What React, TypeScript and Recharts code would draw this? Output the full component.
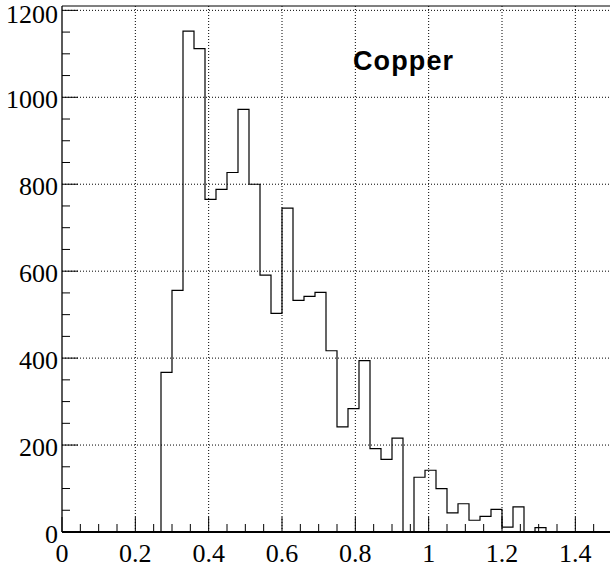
import React from "react";
import { ComposedChart, Line, XAxis, YAxis, ReferenceLine } from "recharts";

// histogram of 50 bins, 0 .. 1.5, width 0.03
const BIN_WIDTH = 0.03;
const counts = [
  0, 0, 0, 0, 0, 0, 0, 0, 0, 367,
  556, 1152, 1112, 765, 788, 827, 972, 800, 591, 503,
  745, 533, 542, 551, 417, 242, 284, 394, 192, 167,
  216, 0, 126, 142, 100, 44, 65, 27, 36, 52,
  11, 58, 0, 10, 0, 0, 0, 0, 0, 0,
];

const xMajor = [0, 0.2, 0.4, 0.6, 0.8, 1, 1.2, 1.4];
const xTicks = [
  0, 0.05, 0.1, 0.15, 0.2, 0.25, 0.3, 0.35, 0.4, 0.45, 0.5, 0.55, 0.6, 0.65, 0.7, 0.75,
  0.8, 0.85, 0.9, 0.95, 1, 1.05, 1.1, 1.15, 1.2, 1.25, 1.3, 1.35, 1.4, 1.45,
];
const yMajor = [0, 200, 400, 600, 800, 1000, 1200];
const yTicks = [
  0, 50, 100, 150, 200, 250, 300, 350, 400, 450, 500, 550, 600, 650, 700, 750,
  800, 850, 900, 950, 1000, 1050, 1100, 1150, 1200,
];

const X_MAX = 1.5;
const Y_MAX = 1210;
const SERIF = "'Liberation Serif', 'Times New Roman', serif";

const data = [
  ...counts.map((c, i) => ({ x: +(i * BIN_WIDTH).toFixed(2), y: c })),
  { x: X_MAX, y: counts[counts.length - 1] },
];

// eslint-disable-next-line @typescript-eslint/no-explicit-any
const XTick = (props: any) => {
  const { x, y, payload } = props;
  const major = xMajor.includes(payload.value);
  return (
    <g>
      <line x1={x} x2={x} y1={y} y2={y - (major ? 15 : 8)} stroke="#000" strokeWidth={1} />
      {major && (
        <text x={x} y={y + 30} textAnchor="middle" fontFamily={SERIF} fontSize={26} fill="#000">
          {String(payload.value)}
        </text>
      )}
    </g>
  );
};

// eslint-disable-next-line @typescript-eslint/no-explicit-any
const YTick = (props: any) => {
  const { x, y, payload } = props;
  const major = yMajor.includes(payload.value);
  // keep the top label's box inside the picture
  const ty = Math.max(y + 11, 23);
  return (
    <g>
      <line x1={x} x2={x + (major ? 16 : 8)} y1={y} y2={y} stroke="#000" strokeWidth={1} />
      {major && (
        <text x={x - 4} y={ty} textAnchor="end" fontFamily={SERIF} fontSize={26} fill="#000">
          {String(payload.value)}
        </text>
      )}
    </g>
  );
};

export default function App() {
  return (
    <div style={{ position: "fixed", left: 0, top: 0, width: 610, height: 569, overflow: "hidden", background: "#fff" }}>
      <ComposedChart width={612} height={569} data={data} margin={{ top: 6, right: 0, bottom: 0, left: 0 }}>
        {xMajor.slice(1).map((v) => (
          <ReferenceLine key={"gx" + v} x={v} stroke="#000" strokeWidth={1} strokeDasharray="1 2" />
        ))}
        {yMajor.slice(1).map((v) => (
          <ReferenceLine key={"gy" + v} y={v} stroke="#000" strokeWidth={1} strokeDasharray="1 2" />
        ))}
        <ReferenceLine y={Y_MAX} stroke="#000" strokeWidth={1} />
        <XAxis
          dataKey="x"
          type="number"
          domain={[0, X_MAX]}
          ticks={xTicks}
          interval={0}
          height={37}
          tickSize={0}
          tickMargin={0}
          tickLine={false}
          tick={<XTick />}
          axisLine={{ stroke: "#000", strokeWidth: 2 }}
          allowDataOverflow
        />
        <YAxis
          type="number"
          domain={[0, Y_MAX]}
          ticks={yTicks}
          interval={0}
          width={62}
          tickSize={0}
          tickMargin={0}
          tickLine={false}
          tick={<YTick />}
          axisLine={{ stroke: "#000", strokeWidth: 1.3 }}
          allowDataOverflow
        />
        <Line
          type="stepAfter"
          dataKey="y"
          stroke="#000"
          strokeWidth={1.2}
          dot={false}
          activeDot={false}
          isAnimationActive={false}
        />
        <text x={353} y={70} fontFamily="'Liberation Sans', Arial, sans-serif" fontWeight="bold" fontSize={27} letterSpacing={1.1} fill="#000">
          Copper
        </text>
      </ComposedChart>
    </div>
  );
}
